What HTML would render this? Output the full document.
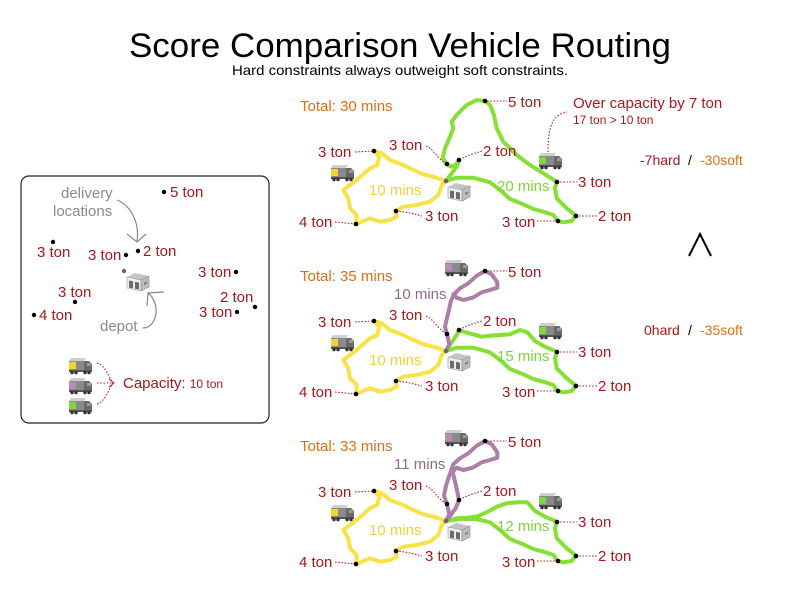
<!DOCTYPE html>
<html><head><meta charset="utf-8"><style>
html,body{margin:0;padding:0;background:#fff}
svg{display:block}
text{font-family:"Liberation Sans",Arial,sans-serif}
.r{fill:#a8171b;font-size:15px}
.o{fill:#dd6f16;font-size:15px}
.g{fill:#8a8a8a;font-size:15px}
.d{fill:none;stroke:#b5262a;stroke-width:1.1;stroke-dasharray:1.6 1.6}
.ry{fill:none;stroke:#f7e24a;stroke-width:4;stroke-linejoin:round;stroke-linecap:round}
.rg{fill:none;stroke:#86df35;stroke-width:4;stroke-linejoin:round;stroke-linecap:round}
.rp{fill:none;stroke:#ad7fa8;stroke-width:4;stroke-linejoin:round;stroke-linecap:round}
</style></head><body>
<svg width="800" height="600" viewBox="0 0 800 600" xmlns="http://www.w3.org/2000/svg">
<defs>
<g id="truckY">
<polygon points="3,0 18,0 16,3 1,3" fill="#cfcfcf"/>
<rect x="1" y="3" width="15" height="9" fill="#8a8a8a"/>
<rect x="1" y="4" width="7" height="7" fill="#f0d730"/>
<polygon points="16,3 21,3 24,6 24,13 16,13" fill="#6a6a6a"/>
<rect x="19" y="5" width="4" height="3" fill="#9a9a9a"/>
<rect x="1" y="12" width="23" height="2" fill="#555"/>
<circle cx="4" cy="14.6" r="1.7" fill="#333"/><circle cx="8" cy="14.6" r="1.7" fill="#333"/>
<circle cx="17" cy="14.6" r="1.7" fill="#333"/><circle cx="21" cy="14.6" r="1.7" fill="#333"/>
</g>
<g id="truckG">
<polygon points="3,0 18,0 16,3 1,3" fill="#cfcfcf"/>
<rect x="1" y="3" width="15" height="9" fill="#8a8a8a"/>
<rect x="1" y="4" width="7" height="7" fill="#7fd83a"/>
<polygon points="16,3 21,3 24,6 24,13 16,13" fill="#6a6a6a"/>
<rect x="19" y="5" width="4" height="3" fill="#9a9a9a"/>
<rect x="1" y="12" width="23" height="2" fill="#555"/>
<circle cx="4" cy="14.6" r="1.7" fill="#333"/><circle cx="8" cy="14.6" r="1.7" fill="#333"/>
<circle cx="17" cy="14.6" r="1.7" fill="#333"/><circle cx="21" cy="14.6" r="1.7" fill="#333"/>
</g>
<g id="truckP">
<polygon points="3,0 18,0 16,3 1,3" fill="#cfcfcf"/>
<rect x="1" y="3" width="15" height="9" fill="#8a8a8a"/>
<rect x="1" y="4" width="7" height="7" fill="#b98bb4"/>
<polygon points="16,3 21,3 24,6 24,13 16,13" fill="#6a6a6a"/>
<rect x="19" y="5" width="4" height="3" fill="#9a9a9a"/>
<rect x="1" y="12" width="23" height="2" fill="#555"/>
<circle cx="4" cy="14.6" r="1.7" fill="#333"/><circle cx="8" cy="14.6" r="1.7" fill="#333"/>
<circle cx="17" cy="14.6" r="1.7" fill="#333"/><circle cx="21" cy="14.6" r="1.7" fill="#333"/>
</g>
<g id="depot">
<polygon points="0,4 8,0 22,3 14,7" fill="#c4c4c4"/>
<polygon points="0,4 14,7 14,18 0,15" fill="#eeeeee" stroke="#9a9a9a" stroke-width="0.6"/>
<polygon points="14,7 22,3 22,14 14,18" fill="#bdbdbd" stroke="#8a8a8a" stroke-width="0.6"/>
<polygon points="2,7.5 6,8.3 6,15.5 2,14.7" fill="#6c6c6c"/>
<polygon points="8,8.8 12,9.6 12,16.6 8,15.8" fill="#6c6c6c"/>
<polygon points="17,10 20,8.5 20,10.5 17,12" fill="#7a7a7a"/>
</g>
</defs>

<!-- Title -->
<text x="400" y="57" text-anchor="middle" font-size="34" fill="#000" textLength="542" lengthAdjust="spacingAndGlyphs">Score Comparison Vehicle Routing</text>
<text x="400" y="75" text-anchor="middle" font-size="14" fill="#000" textLength="336" lengthAdjust="spacingAndGlyphs">Hard constraints always outweight soft constraints.</text>

<!-- Left legend box -->
<rect x="21" y="176" width="248" height="247" rx="8" ry="8" fill="#fff" stroke="#222" stroke-width="1.2"/>
<text class="g" x="61" y="198">delivery</text>
<text class="g" x="53" y="216">locations</text>
<path d="M117,200 C130,205 140,222 137,241" fill="none" stroke="#888" stroke-width="1.2"/>
<polyline points="127,234 137,242 146,234" fill="none" stroke="#888" stroke-width="1.2"/>
<circle cx="164" cy="192" r="2.2" fill="#000"/><text class="r" x="170" y="197">5 ton</text>
<circle cx="53" cy="242" r="2.2" fill="#000"/><text class="r" x="37" y="257">3 ton</text>
<text class="r" x="88" y="260">3 ton</text><circle cx="126" cy="255" r="2.2" fill="#000"/>
<circle cx="138" cy="251" r="2.2" fill="#000"/><text class="r" x="143" y="256">2 ton</text>
<circle cx="124" cy="271" r="2.2" fill="#666"/>
<use href="#depot" x="127" y="273"/>
<text class="r" x="198" y="277">3 ton</text><circle cx="236" cy="272" r="2.2" fill="#000"/>
<text class="r" x="220" y="302">2 ton</text><circle cx="255" cy="307" r="2.2" fill="#000"/>
<text class="r" x="199" y="317">3 ton</text><circle cx="237" cy="312" r="2.2" fill="#000"/>
<text class="r" x="58" y="297">3 ton</text><circle cx="75" cy="302" r="2.2" fill="#000"/>
<circle cx="34" cy="315" r="2.2" fill="#000"/><text class="r" x="39" y="320">4 ton</text>
<text class="g" x="100" y="331">depot</text>
<path d="M143,328 C152,328 157,318 156,308 C155,300 152,296 148,293" fill="none" stroke="#888" stroke-width="1.2"/>
<polyline points="164,292 148,293 147,306" fill="none" stroke="#888" stroke-width="1.2"/>
<use href="#truckY" x="68" y="358"/>
<use href="#truckP" x="68" y="378"/>
<use href="#truckG" x="68" y="398"/>
<path class="d" d="M97,363 C106,366 108,376 113,383"/>
<path class="d" d="M97,383 L113,383"/>
<path class="d" d="M97,404 C106,401 108,390 113,383"/>
<polyline class="d" points="109,379 114,383 109,387" style="stroke-dasharray:none;stroke-width:1"/>
<text class="r" x="123" y="388">Capacity: <tspan font-size="12">10 ton</tspan></text>

<!-- ===== Panel 1 ===== -->
<g>
<text class="o" x="300" y="111">Total: 30 mins</text>
<polyline class="ry" points="446,181 436.7,177.7 423.3,174.3 413.3,170 403.3,165 390,160 381.7,153.3 374.3,151 379.3,156.7 377.3,165 370,168.3 356.7,180 343.3,190 348.3,198.3 350,208.3 356.7,215 356,224.3 361.7,221.7 370,218.3 380,221.7 390,220 396.7,216.7 395.7,211 403.3,206.7 416.7,205 430,201.7 438.3,195 441.7,185 446,181"/>
<polyline class="rg" points="446,181 451.7,173.3 456.7,166.7 459,160 455.7,165 450.7,166.7 446.7,164.3 442.7,157.7 445,148.3 449.3,138.3 453.3,128.3 451.7,121.7 456.7,115 466.7,105 476.7,100 485,101 490,105 494,115 496.7,128.3 503.3,141.7 516.7,155 530,165 543.3,173.3 556.7,181.7 555,188.3 556.7,198.3 566.7,208.3 576,215.7 571.7,221 563.3,222.3 557.7,221 553.3,215 543.3,211.7 533.3,209 523.3,204.3 510,199 500,190 490,182.3 473.3,177.7 456.7,177.7 446,181"/>
<use href="#truckY" x="330" y="165"/>
<use href="#truckG" x="538" y="153"/>
<use href="#depot" x="448" y="183"/>
<text x="369" y="195" font-size="15" fill="#ead33a">10 mins</text>
<text x="497" y="191" font-size="15" fill="#7ed33a">20 mins</text>
<path class="d" d="M487,101 L507,101"/><text class="r" x="508" y="107">5 ton</text>
<path class="d" d="M355,152 L374,151"/><text class="r" x="318" y="157">3 ton</text>
<path class="d" d="M426,146 C434,149 436,158 447,164"/><text class="r" x="389" y="150">3 ton</text>
<path class="d" d="M482,151 C472,154 466,156 459,160"/><text class="r" x="483" y="156">2 ton</text>
<path class="d" d="M557,182 L577,182"/><text class="r" x="578" y="187">3 ton</text>
<path class="d" d="M576,216 L597,216"/><text class="r" x="598" y="221">2 ton</text>
<path class="d" d="M537,221 L558,221"/><text class="r" x="502" y="227">3 ton</text>
<path class="d" d="M396,211 C408,212 414,214 422,216"/><text class="r" x="425" y="221">3 ton</text>
<path class="d" d="M335,222 L356,224"/><text class="r" x="299" y="227">4 ton</text>
<circle cx="485" cy="101" r="2.3" fill="#000"/>
<circle cx="374" cy="151" r="2.3" fill="#000"/>
<circle cx="447" cy="164" r="2.3" fill="#000"/>
<circle cx="459" cy="160" r="2.3" fill="#000"/>
<circle cx="557" cy="182" r="2.3" fill="#000"/>
<circle cx="576" cy="216" r="2.3" fill="#000"/>
<circle cx="558" cy="221" r="2.3" fill="#000"/>
<circle cx="396" cy="211" r="2.3" fill="#000"/>
<circle cx="356" cy="224" r="2.3" fill="#000"/>
<circle cx="446" cy="181" r="2.3" fill="#666"/>
<path class="d" d="M548,152 C548,128 552,114 567,112"/>
<text class="r" x="573" y="108">Over capacity by 7 ton</text>
<text x="573" y="124" font-size="12" fill="#a8171b">17 ton &gt; 10 ton</text>
</g>

<text x="640" y="165" font-size="14" fill="#a8171b">-7hard</text>
<text x="688" y="165" font-size="14" fill="#000">/</text>
<text x="700" y="165" font-size="14" fill="#dd6f16">-30soft</text>
<polyline points="689,256 700,234 711,256" fill="none" stroke="#000" stroke-width="2"/>
<text x="644" y="335" font-size="14" fill="#a8171b">0hard</text>
<text x="688" y="335" font-size="14" fill="#000">/</text>
<text x="700" y="335" font-size="14" fill="#dd6f16">-35soft</text>

<!-- ===== Panel 2 ===== -->
<g transform="translate(0,170)">
<text class="o" x="300" y="111">Total: 35 mins</text>
<polyline class="ry" points="446,181 436.7,177.7 423.3,174.3 413.3,170 403.3,165 390,160 381.7,153.3 374.3,151 379.3,156.7 377.3,165 370,168.3 356.7,180 343.3,190 348.3,198.3 350,208.3 356.7,215 356,224.3 361.7,221.7 370,218.3 380,221.7 390,220 396.7,216.7 395.7,211 403.3,206.7 416.7,205 430,201.7 438.3,195 441.7,185 446,181"/>
<polyline class="rg" points="446,181 451.7,172.3 456.7,165 459,160 465,162.3 473.3,164.3 481.7,166.7 490,165.7 500,165 510,164.3 520,160 527.3,162.3 535,171 545,176.7 556.7,181.7 555,188.3 556.7,198.3 566.7,208.3 576,215.7 571.7,221 563.3,222.3 557.7,221 553.3,215 543.3,211.7 533.3,209 523.3,204.3 510,199 500,190 490,182.3 473.3,177.7 456.7,177.7 446,181"/>
<polyline class="rp" points="446,181 449.3,174.3 447,164.3 445,156.7 447.3,146.7 449.3,138.3 450.7,131.7 454,124.3 460,118.3 468.3,113.3 476.7,105.7 485,101 491.7,104.3 497.3,112.3 497.3,117.7 490,120 481.7,122.3 472.7,127.7 463.3,130 456.7,127.7 453.3,124.3"/>
<use href="#truckY" x="330" y="165"/>
<use href="#truckG" x="538" y="153"/>
<use href="#truckP" x="444" y="90"/>
<use href="#depot" x="448" y="183"/>
<text x="369" y="195" font-size="15" fill="#ead33a">10 mins</text>
<text x="497" y="191" font-size="15" fill="#7ed33a">15 mins</text>
<text x="394" y="129" font-size="15" fill="#8f6b8c">10 mins</text>
<path class="d" d="M487,101 L507,101"/><text class="r" x="508" y="107">5 ton</text>
<path class="d" d="M355,152 L374,151"/><text class="r" x="318" y="157">3 ton</text>
<path class="d" d="M426,146 C434,149 436,158 447,164"/><text class="r" x="389" y="150">3 ton</text>
<path class="d" d="M482,151 C472,154 466,156 459,160"/><text class="r" x="483" y="156">2 ton</text>
<path class="d" d="M557,182 L577,182"/><text class="r" x="578" y="187">3 ton</text>
<path class="d" d="M576,216 L597,216"/><text class="r" x="598" y="221">2 ton</text>
<path class="d" d="M537,221 L558,221"/><text class="r" x="502" y="227">3 ton</text>
<path class="d" d="M396,211 C408,212 414,214 422,216"/><text class="r" x="425" y="221">3 ton</text>
<path class="d" d="M335,222 L356,224"/><text class="r" x="299" y="227">4 ton</text>
<circle cx="485" cy="101" r="2.3" fill="#000"/>
<circle cx="374" cy="151" r="2.3" fill="#000"/>
<circle cx="447" cy="164" r="2.3" fill="#000"/>
<circle cx="459" cy="160" r="2.3" fill="#000"/>
<circle cx="557" cy="182" r="2.3" fill="#000"/>
<circle cx="576" cy="216" r="2.3" fill="#000"/>
<circle cx="558" cy="221" r="2.3" fill="#000"/>
<circle cx="396" cy="211" r="2.3" fill="#000"/>
<circle cx="356" cy="224" r="2.3" fill="#000"/>
<circle cx="446" cy="181" r="2.3" fill="#666"/>
</g>

<!-- ===== Panel 3 ===== -->
<g transform="translate(0,340)">
<text class="o" x="300" y="111">Total: 33 mins</text>
<polyline class="ry" points="446,181 436.7,177.7 423.3,174.3 413.3,170 403.3,165 390,160 381.7,153.3 374.3,151 379.3,156.7 377.3,165 370,168.3 356.7,180 343.3,190 348.3,198.3 350,208.3 356.7,215 356,224.3 361.7,221.7 370,218.3 380,221.7 390,220 396.7,216.7 395.7,211 403.3,206.7 416.7,205 430,201.7 438.3,195 441.7,185 446,181"/>
<polyline class="rg" points="446,181 456.7,178.3 466.7,177.7 476.7,176.7 486.7,172.3 496.7,166.7 506.7,163.3 518.3,162.3 527.3,162.3 535,171 545,176.7 556.7,181.7 555,188.3 556.7,198.3 566.7,208.3 576,215.7 571.7,221 563.3,222.3 557.7,221 553.3,215 543.3,211.7 533.3,209 523.3,204.3 510,199 500,190 490,182.3 476,179 460,179 446,181"/>
<polyline class="rp" points="446,181 449.3,174.3 447,164.3 444,155.7 446,145.7 449.3,135.7 453.3,124.3 460,118.3 468.3,113.3 476.7,105.7 485,101 491.7,104.3 497.3,112.3 497.3,117.7 490,120 481.7,122.3 472.7,127.7 463.3,130 456.7,127.7 452.7,131.7 455,141.7 457.3,151.7 459,160 455.7,168.3 450.7,175 446,181"/>
<use href="#truckY" x="330" y="165"/>
<use href="#truckG" x="538" y="153"/>
<use href="#truckP" x="444" y="90"/>
<use href="#depot" x="448" y="183"/>
<text x="369" y="195" font-size="15" fill="#ead33a">10 mins</text>
<text x="497" y="191" font-size="15" fill="#7ed33a">12 mins</text>
<text x="394" y="129" font-size="15" fill="#8f6b8c">11 mins</text>
<path class="d" d="M487,101 L507,101"/><text class="r" x="508" y="107">5 ton</text>
<path class="d" d="M355,152 L374,151"/><text class="r" x="318" y="157">3 ton</text>
<path class="d" d="M426,146 C434,149 436,158 447,164"/><text class="r" x="389" y="150">3 ton</text>
<path class="d" d="M482,151 C472,154 466,156 459,160"/><text class="r" x="483" y="156">2 ton</text>
<path class="d" d="M557,182 L577,182"/><text class="r" x="578" y="187">3 ton</text>
<path class="d" d="M576,216 L597,216"/><text class="r" x="598" y="221">2 ton</text>
<path class="d" d="M537,221 L558,221"/><text class="r" x="502" y="227">3 ton</text>
<path class="d" d="M396,211 C408,212 414,214 422,216"/><text class="r" x="425" y="221">3 ton</text>
<path class="d" d="M335,222 L356,224"/><text class="r" x="299" y="227">4 ton</text>
<circle cx="485" cy="101" r="2.3" fill="#000"/>
<circle cx="374" cy="151" r="2.3" fill="#000"/>
<circle cx="447" cy="164" r="2.3" fill="#000"/>
<circle cx="459" cy="160" r="2.3" fill="#000"/>
<circle cx="557" cy="182" r="2.3" fill="#000"/>
<circle cx="576" cy="216" r="2.3" fill="#000"/>
<circle cx="558" cy="221" r="2.3" fill="#000"/>
<circle cx="396" cy="211" r="2.3" fill="#000"/>
<circle cx="356" cy="224" r="2.3" fill="#000"/>
<circle cx="446" cy="181" r="2.3" fill="#666"/>
</g>
</svg>
</body></html>
